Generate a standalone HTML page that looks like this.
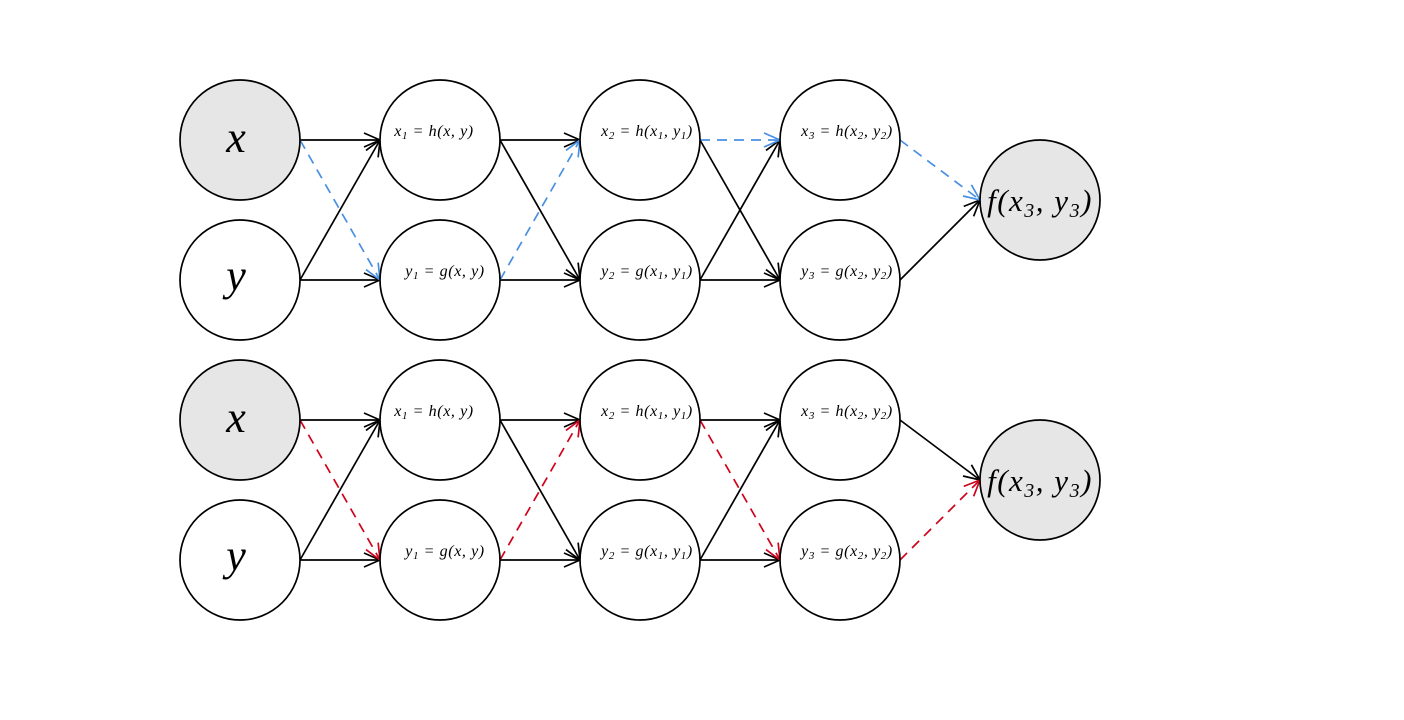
<!DOCTYPE html>
<html><head><style>body{margin:0;background:#fff}</style></head><body>
<svg width="1404" height="715" viewBox="0 0 1404 715" xmlns="http://www.w3.org/2000/svg" font-family="Liberation Serif, serif" font-style="italic">
<defs>
<marker id="ak" markerWidth="20" markerHeight="20" refX="17" refY="8" orient="auto" markerUnits="userSpaceOnUse"><path d="M1,1 L17,8 L1,15" fill="none" stroke="#000" stroke-width="1.7"/></marker>
<marker id="ab" markerWidth="20" markerHeight="20" refX="17" refY="8" orient="auto" markerUnits="userSpaceOnUse"><path d="M1,1 L17,8 L1,15" fill="none" stroke="#4a90e2" stroke-width="1.7"/></marker>
<marker id="ar" markerWidth="20" markerHeight="20" refX="17" refY="8" orient="auto" markerUnits="userSpaceOnUse"><path d="M1,1 L17,8 L1,15" fill="none" stroke="#d0021b" stroke-width="1.7"/></marker>
</defs>
<g stroke-width="1.7" fill="none">
<g stroke="#000" marker-end="url(#ak)">
<line x1="300" y1="140" x2="380" y2="140"/><line x1="300" y1="280" x2="380" y2="140"/><line x1="300" y1="280" x2="380" y2="280"/>
<line x1="500" y1="140" x2="580" y2="140"/><line x1="500" y1="140" x2="580" y2="280"/><line x1="500" y1="280" x2="580" y2="280"/>
<line x1="700" y1="140" x2="780" y2="280"/><line x1="700" y1="280" x2="780" y2="140"/><line x1="700" y1="280" x2="780" y2="280"/>
<line x1="900" y1="280" x2="980" y2="200"/>
<line x1="300" y1="420" x2="380" y2="420"/><line x1="300" y1="560" x2="380" y2="420"/><line x1="300" y1="560" x2="380" y2="560"/>
<line x1="500" y1="420" x2="580" y2="420"/><line x1="500" y1="420" x2="580" y2="560"/><line x1="500" y1="560" x2="580" y2="560"/>
<line x1="700" y1="420" x2="780" y2="420"/><line x1="700" y1="560" x2="780" y2="420"/><line x1="700" y1="560" x2="780" y2="560"/>
<line x1="900" y1="420" x2="980" y2="480"/>
</g>
<g stroke="#4a90e2" stroke-dasharray="10,7" marker-end="url(#ab)">
<line x1="300" y1="140" x2="380" y2="280"/><line x1="500" y1="280" x2="580" y2="140"/><line x1="700" y1="140" x2="780" y2="140"/><line x1="900" y1="140" x2="980" y2="200"/>
</g>
<g stroke="#d0021b" stroke-dasharray="10,7" marker-end="url(#ar)">
<line x1="300" y1="420" x2="380" y2="560"/><line x1="500" y1="560" x2="580" y2="420"/><line x1="700" y1="420" x2="780" y2="560"/><line x1="900" y1="560" x2="980" y2="480"/>
</g>
</g>
<g stroke="#000" stroke-width="1.7">
<circle cx="240" cy="140" r="60" fill="#e6e6e6"/><circle cx="240" cy="280" r="60" fill="#fff"/>
<circle cx="240" cy="420" r="60" fill="#e6e6e6"/><circle cx="240" cy="560" r="60" fill="#fff"/>
<g fill="#fff">
<circle cx="440" cy="140" r="60"/><circle cx="440" cy="280" r="60"/><circle cx="640" cy="140" r="60"/><circle cx="640" cy="280" r="60"/><circle cx="840" cy="140" r="60"/><circle cx="840" cy="280" r="60"/>
<circle cx="440" cy="420" r="60"/><circle cx="440" cy="560" r="60"/><circle cx="640" cy="420" r="60"/><circle cx="640" cy="560" r="60"/><circle cx="840" cy="420" r="60"/><circle cx="840" cy="560" r="60"/>
</g>
<circle cx="1040" cy="200" r="60" fill="#e6e6e6"/><circle cx="1040" cy="480" r="60" fill="#e6e6e6"/>
</g>
<g font-size="44" text-anchor="middle" fill="#000">
<text x="236" y="152">x</text><text x="236" y="290">y</text><text x="236" y="432">x</text><text x="236" y="570">y</text>
</g>
<g font-size="31" text-anchor="middle" letter-spacing="1.5"><text x="1040" y="211">f(x<tspan font-size="20" dy="6">3</tspan><tspan dy="-6">, y</tspan><tspan font-size="20" dy="6">3</tspan><tspan dy="-6">)</tspan></text>
<text x="1040" y="491">f(x<tspan font-size="20" dy="6">3</tspan><tspan dy="-6">, y</tspan><tspan font-size="20" dy="6">3</tspan><tspan dy="-6">)</tspan></text></g>
<g font-size="16" text-anchor="middle" letter-spacing="0.6">
<text x="434" y="136">x<tspan font-size="11" dy="3">1</tspan><tspan dy="-3"> = h(x, y)</tspan></text>
<text x="445" y="276">y<tspan font-size="11" dy="3">1</tspan><tspan dy="-3"> = g(x, y)</tspan></text>
<text x="647" y="136">x<tspan font-size="11" dy="3">2</tspan><tspan dy="-3"> = h(x</tspan><tspan font-size="11" dy="3">1</tspan><tspan dy="-3">, y</tspan><tspan font-size="11" dy="3">1</tspan><tspan dy="-3">)</tspan></text>
<text x="647" y="276">y<tspan font-size="11" dy="3">2</tspan><tspan dy="-3"> = g(x</tspan><tspan font-size="11" dy="3">1</tspan><tspan dy="-3">, y</tspan><tspan font-size="11" dy="3">1</tspan><tspan dy="-3">)</tspan></text>
<text x="847" y="136">x<tspan font-size="11" dy="3">3</tspan><tspan dy="-3"> = h(x</tspan><tspan font-size="11" dy="3">2</tspan><tspan dy="-3">, y</tspan><tspan font-size="11" dy="3">2</tspan><tspan dy="-3">)</tspan></text>
<text x="847" y="276">y<tspan font-size="11" dy="3">3</tspan><tspan dy="-3"> = g(x</tspan><tspan font-size="11" dy="3">2</tspan><tspan dy="-3">, y</tspan><tspan font-size="11" dy="3">2</tspan><tspan dy="-3">)</tspan></text>
<text x="434" y="416">x<tspan font-size="11" dy="3">1</tspan><tspan dy="-3"> = h(x, y)</tspan></text>
<text x="445" y="556">y<tspan font-size="11" dy="3">1</tspan><tspan dy="-3"> = g(x, y)</tspan></text>
<text x="647" y="416">x<tspan font-size="11" dy="3">2</tspan><tspan dy="-3"> = h(x</tspan><tspan font-size="11" dy="3">1</tspan><tspan dy="-3">, y</tspan><tspan font-size="11" dy="3">1</tspan><tspan dy="-3">)</tspan></text>
<text x="647" y="556">y<tspan font-size="11" dy="3">2</tspan><tspan dy="-3"> = g(x</tspan><tspan font-size="11" dy="3">1</tspan><tspan dy="-3">, y</tspan><tspan font-size="11" dy="3">1</tspan><tspan dy="-3">)</tspan></text>
<text x="847" y="416">x<tspan font-size="11" dy="3">3</tspan><tspan dy="-3"> = h(x</tspan><tspan font-size="11" dy="3">2</tspan><tspan dy="-3">, y</tspan><tspan font-size="11" dy="3">2</tspan><tspan dy="-3">)</tspan></text>
<text x="847" y="556">y<tspan font-size="11" dy="3">3</tspan><tspan dy="-3"> = g(x</tspan><tspan font-size="11" dy="3">2</tspan><tspan dy="-3">, y</tspan><tspan font-size="11" dy="3">2</tspan><tspan dy="-3">)</tspan></text>
</g>
</svg>
</body></html>
